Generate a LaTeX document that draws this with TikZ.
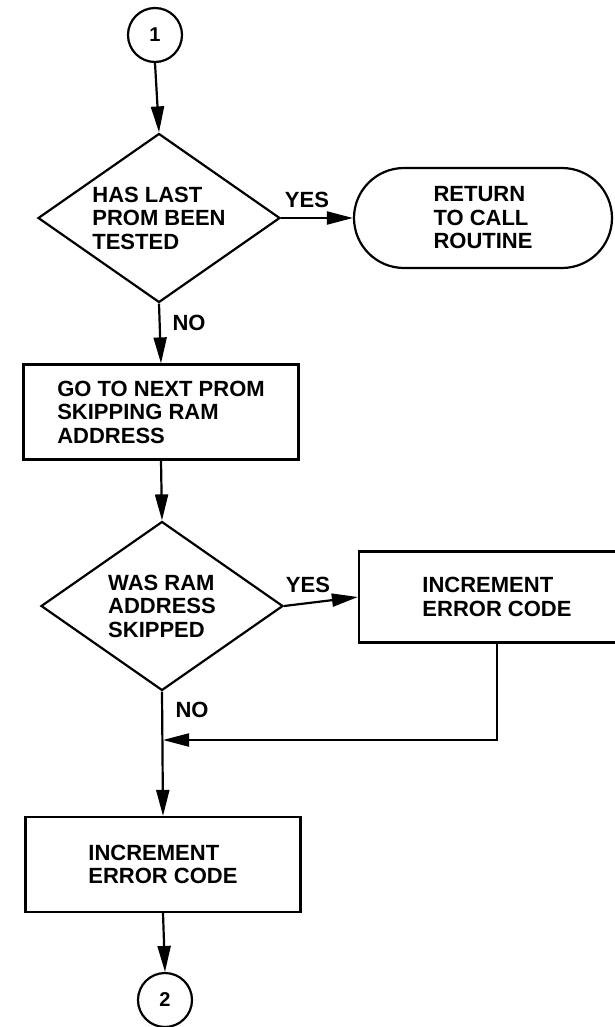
\documentclass[tikz,border=0pt]{standalone}
\usepackage{fontspec}
\setmainfont{Liberation Sans}
\usetikzlibrary{shapes.geometric,shapes.misc,arrows.meta}
\tikzset{
  every node/.style={font=\fontsize{22}{23.5}\selectfont\bfseries},
  line/.style={line width=2.2pt},
  arr/.style={line/.style, line width=2.2pt, -{Triangle[length=26pt,width=13pt]}},
  dec/.style={draw, line width=2.2pt, diamond, shape aspect=1.43, inner sep=0pt,
              minimum width=242pt, minimum height=169pt, align=left},
  proc/.style={draw, line width=2.2pt, rectangle, inner sep=0pt,
               minimum width=275pt, minimum height=95pt, align=left},
  term/.style={draw, line width=2.2pt, rounded rectangle, inner sep=0pt,
               minimum width=258pt, minimum height=100pt, align=left},
  conn/.style={draw, line width=2.2pt, circle, inner sep=0pt, minimum size=54pt,
               font=\fontsize{20}{22}\selectfont\bfseries},
  lbl/.style={inner sep=0pt}
}
\begin{document}
\begin{tikzpicture}[x=1pt,y=-1pt]
\useasboundingbox (0,0) rectangle (614,1027);
\node[conn] (c1) at (155,35) {1};
\node[dec] (d1) at (159,218) {HAS LAST\\PROM BEEN\\TESTED};
\node[term] (t1) at (483,218) {RETURN\\TO CALL\\ROUTINE};
\node[proc] (r2) at (161,412) {GO TO NEXT PROM\\SKIPPING RAM\\ADDRESS};
\node[dec] (d2) at (162,606) {WAS RAM\\ADDRESS\\SKIPPED};
\node[proc, minimum width=276pt, minimum height=91pt] (r3) at (497,597) {INCREMENT\\ERROR CODE};
\node[proc] (r4) at (163,864.5) {INCREMENT\\ERROR CODE};
\node[conn] (c2) at (165,1000) {2};
\coordinate (j) at (163,740);

\node[lbl] (y1) at (307,200) {YES};
\node[lbl] (n1) at (189,323) {NO};
\node[lbl] (y2) at (308,585) {YES};
\node[lbl] (n2) at (192,710) {NO};

\draw[arr] (c1.south) -- (d1.north);
\draw[arr] (d1.east) -- (t1.west);
\draw[arr] (d1.south) -- (r2.north);
\draw[arr] (r2.south) -- (d2.north);
\draw[arr] (d2.east) -- (r3.west);
\draw[arr] (r3.south) |- (j);
\draw[arr] (d2.south) -- (r4.north);
\draw[arr] (r4.south) -- (c2.north);
\end{tikzpicture}
\end{document}
